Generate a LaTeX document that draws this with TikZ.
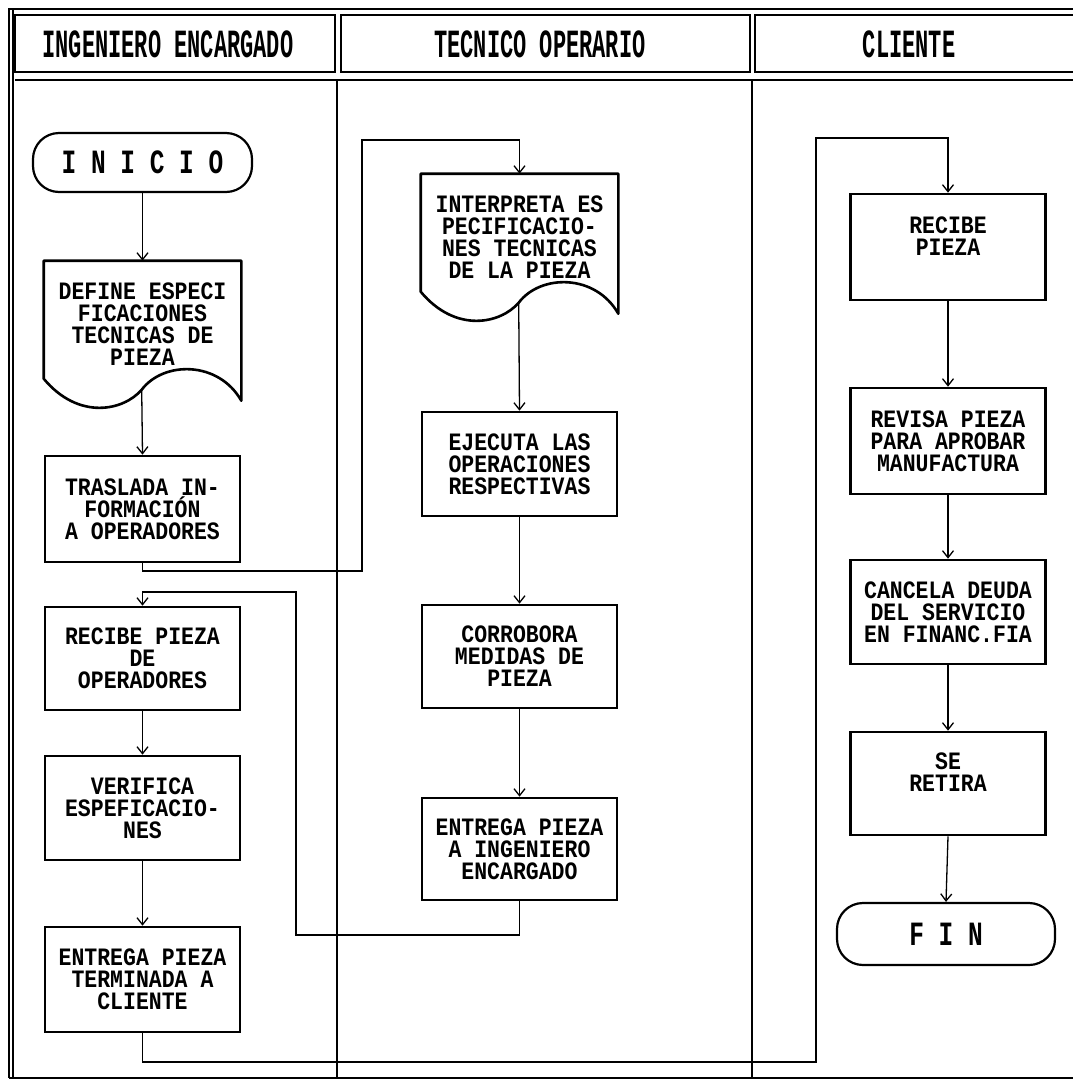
\documentclass[tikz,border=0pt]{standalone}
\usepackage{fontspec}
\usetikzlibrary{arrows.meta,calc}
\newfontfamily\boxfont[FakeStretch=0.86]{Liberation Mono}
\newfontfamily\hdrfont[FakeStretch=0.55]{Liberation Mono}
\newfontfamily\termfont[FakeStretch=0.72]{Liberation Mono}
\tikzset{
  frame/.style={line width=1.6pt},
  hdr/.style={font=\hdrfont\bfseries\fontsize{40}{40}\selectfont, inner sep=0pt},
  box/.style={draw, line width=2.6pt, minimum width=195pt, align=center,
    font=\boxfont\bfseries\fontsize{25}{22}\selectfont, inner sep=2pt},
  doc/.style={box, draw=none, minimum height=124pt},
  term/.style={draw, line width=2.2pt, rounded corners=26pt, minimum width=219pt,
    minimum height=59pt, font=\termfont\bfseries\fontsize{34}{34}\selectfont},
  conn/.style={line width=1.3pt, -{Straight Barb[length=7pt,width=11pt,line width=1.3pt]}},
  docline/.style={line width=2.6pt, line join=round},
}
\newcommand{\docoutline}[1]{%
  \draw[docline] ($(#1.north west)+(0,118)$) -- (#1.north west) -- (#1.north east)
    -- ($(#1.north east)+(0,140)$)
    .. controls ($(#1.north west)+(175,100)$) and ($(#1.north west)+(120,100)$) ..
    ($(#1.north west)+(98,129)$) coordinate (#1-out)
    .. controls ($(#1.north west)+(80,150)$) and ($(#1.north west)+(35,160)$) ..
    ($(#1.north west)+(0,118)$) -- cycle;}
\begin{document}
\begin{tikzpicture}[x=1pt,y=-1pt]
\useasboundingbox (0,0) rectangle (1073,1082);
\fill[white] (0,0) rectangle (1073,1082);
% frame
\draw[frame] (8,9) -- (1073,9);
\draw[frame] (9,9) -- (9,1078);
\draw[frame] (13,9) -- (13,1078);
\draw[frame] (9,1078) -- (1073,1078);
\draw[frame] (15,15) rectangle (335,72);
\draw[frame] (341,15) rectangle (750,72);
\draw[frame] (1073,15) -- (755,15) -- (755,72) -- (1073,72);
\draw[frame] (15,80) -- (1073,80);
\draw[frame] (337,80) -- (337,1078);
\draw[frame] (752,80) -- (752,1078);
% headers
\node[hdr] (h1) at (168,44) {INGENIERO ENCARGADO};
\node[hdr] (h2) at (540,44) {TECNICO OPERARIO};
\node[hdr] (h3) at (909,44) {CLIENTE};
% column 1
\node[term] (inicio) at (142.5,162.5) {I N I C I O};
\node[doc] (def) at (142.5,324) {DEFINE ESPECI\\FICACIONES\\TECNICAS DE\\PIEZA};
\docoutline{def}
\node[box,minimum height=106pt] (tras) at (142.5,509) {TRASLADA IN-\\FORMACIÓN\\A OPERADORES};
\node[box,minimum height=103pt] (recop) at (142.5,658.5) {RECIBE PIEZA\\DE\\OPERADORES};
\node[box,minimum height=104pt] (verif) at (142.5,808) {VERIFICA\\ESPEFICACIO-\\NES};
\node[box,minimum height=105pt] (entt) at (142.5,979.5) {ENTREGA PIEZA\\TERMINADA A\\CLIENTE};
% column 2
\node[doc] (interp) at (519.5,237) {INTERPRETA ES\\PECIFICACIO-\\NES TECNICAS\\DE LA PIEZA};
\docoutline{interp}
\node[box,minimum height=104pt] (ejec) at (519.5,464) {EJECUTA LAS\\OPERACIONES\\RESPECTIVAS};
\node[box,minimum height=103pt] (corr) at (519.5,656.5) {CORROBORA\\MEDIDAS DE\\PIEZA};
\node[box,minimum height=102pt] (entr) at (519.5,849) {ENTREGA PIEZA\\A INGENIERO\\ENCARGADO};
% column 3
\node[box,minimum height=106pt] (recpz) at (948,247) {RECIBE\\PIEZA\\\mbox{}};
\node[box,minimum height=106pt] (rev) at (948,441) {REVISA PIEZA\\PARA APROBAR\\MANUFACTURA};
\node[box,minimum height=104pt] (canc) at (948,612) {CANCELA DEUDA\\DEL SERVICIO\\EN FINANC.FIA};
\node[box,minimum height=103pt] (ret) at (948,783.5) {SE\\RETIRA\\\mbox{}};
\node[term,minimum width=218pt,minimum height=62pt] (fin) at (946,934) {F I N};
% bend points
\coordinate (b1) at (362,571);
\coordinate (b2) at (362,140);
\coordinate (b3) at (296,935);
\coordinate (b4) at (296,592);
\coordinate (b5) at (816,1062);
\coordinate (b6) at (816,138);
% connectors
\draw[conn] (inicio.south) -- (def.north);
\draw[conn] (def-out) -- (tras.north);
\draw[conn] (tras.south) |- (b1) -- (b2) -| (interp.north);
\draw[conn] (interp-out) -- (ejec.north);
\draw[conn] (ejec.south) -- (corr.north);
\draw[conn] (corr.south) -- (entr.north);
\draw[conn] (entr.south) |- (b3) -- (b4) -| (recop.north);
\draw[conn] (recop.south) -- (verif.north);
\draw[conn] (verif.south) -- (entt.north);
\draw[conn] (entt.south) |- (b5) -- (b6) -| (recpz.north);
\draw[conn] (recpz.south) -- (rev.north);
\draw[conn] (rev.south) -- (canc.north);
\draw[conn] (canc.south) -- (ret.north);
\draw[conn] (ret.south) -- (fin.north);
\end{tikzpicture}
\end{document}
